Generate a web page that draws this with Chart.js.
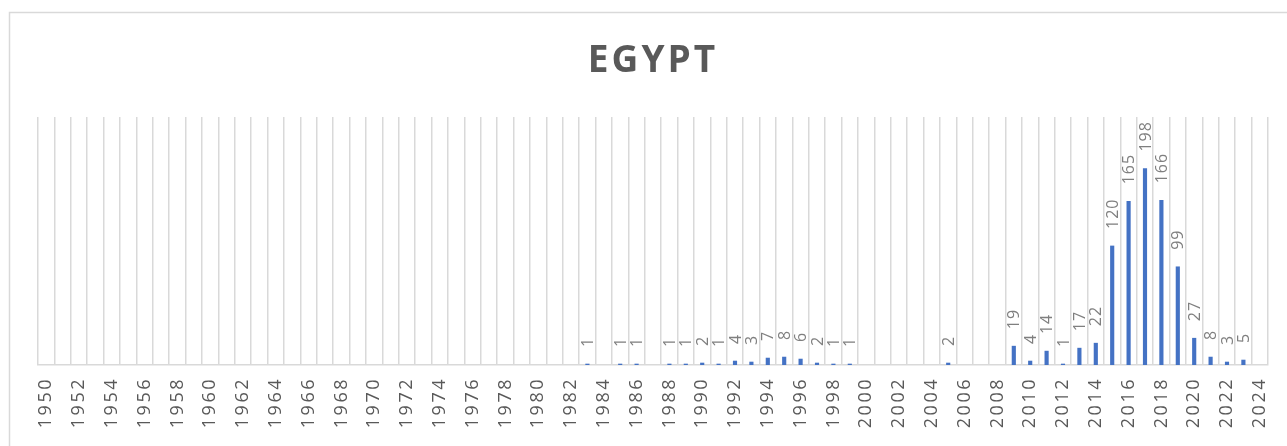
<!DOCTYPE html>
<html>
<head>
<meta charset="utf-8">
<script src="https://cdn.jsdelivr.net/npm/chart.js@4"></script>
<style>
  html, body { margin: 0; padding: 0; background: #fff; }
  .chartBox { width: 1287px; height: 446px; position: relative; }
</style>
</head>
<body>
<div class="chartBox"><canvas id="barChart"></canvas></div>
<script>
const chartTitle = "EGYPT";

const years = [
  "1950", "1951", "1952", "1953", "1954", "1955", "1956", "1957", "1958", "1959",
  "1960", "1961", "1962", "1963", "1964", "1965", "1966", "1967", "1968", "1969",
  "1970", "1971", "1972", "1973", "1974", "1975", "1976", "1977", "1978", "1979",
  "1980", "1981", "1982", "1983", "1984", "1985", "1986", "1987", "1988", "1989",
  "1990", "1991", "1992", "1993", "1994", "1995", "1996", "1997", "1998", "1999",
  "2000", "2001", "2002", "2003", "2004", "2005", "2006", "2007", "2008", "2009",
  "2010", "2011", "2012", "2013", "2014", "2015", "2016", "2017", "2018", "2019",
  "2020", "2021", "2022", "2023", "2024",
];

// one count per year, same order as years
const counts = [
  0, 0, 0, 0, 0, 0, 0, 0, 0, 0,
  0, 0, 0, 0, 0, 0, 0, 0, 0, 0,
  0, 0, 0, 0, 0, 0, 0, 0, 0, 0,
  0, 0, 0, 1, 0, 1, 1, 0, 1, 1,
  2, 1, 4, 3, 7, 8, 6, 2, 1, 1,
  0, 0, 0, 0, 0, 2, 0, 0, 0, 19,
  4, 14, 1, 17, 22, 120, 165, 198, 166, 99,
  27, 8, 3, 5, 0,
];

const gridColor = "#d9d9d9";
const textColor = "#595959";

// frame + title, drawn by hand so they sit where the original has them
const framePlugin = {
  id: "frame",
  beforeDraw(chart) {
    const ctx = chart.ctx;
    ctx.save();
    ctx.strokeStyle = gridColor;
    ctx.lineWidth = 1.5;
    ctx.strokeRect(9.5, 12.5, 1400, 600);
    ctx.fillStyle = textColor;
    ctx.font = "bold 37px 'Open Sans'";
    ctx.letterSpacing = "3px";
    ctx.textAlign = "center";
    ctx.textBaseline = "alphabetic";
    ctx.fillText(chartTitle, 653, 72);
    ctx.restore();
    // tick labels are spaced out a little in the original
    ctx.letterSpacing = "2.5px";
  },
  afterDraw(chart) {
    chart.ctx.letterSpacing = "0px";
  },
};

// value labels, rotated, above each non-zero bar
const valueLabelPlugin = {
  id: "valueLabels",
  afterDatasetsDraw(chart) {
    const ctx = chart.ctx;
    const meta = chart.getDatasetMeta(0);
    ctx.save();
    ctx.fillStyle = "#7f7f7f";
    ctx.font = "16px 'Open Sans'";
    ctx.letterSpacing = "1px";
    ctx.textAlign = "left";
    ctx.textBaseline = "middle";
    meta.data.forEach((bar, i) => {
      if (!counts[i]) return;
      ctx.save();
      ctx.translate(bar.x + 1, bar.y - 17);
      ctx.rotate(-Math.PI / 2);
      ctx.fillText(String(counts[i]), 0, 0);
      ctx.restore();
    });
    ctx.restore();
  },
};

const ctx = document.getElementById("barChart").getContext("2d");
const chart = new Chart(ctx, {
  type: "bar",
  data: {
    labels: years,
    datasets: [
      {
        // empty years get no bar at all
        data: counts.map((v) => (v === 0 ? null : v)),
        backgroundColor: "#4472C4",
        barThickness: 3.5,
      },
    ],
  },
  options: {
    responsive: true,
    maintainAspectRatio: false,
    animation: false,
    layout: { padding: { left: 38, right: 19, top: 117, bottom: 0 } },
    plugins: {
      legend: { display: false },
      title: { display: false },
      tooltip: { enabled: false },
    },
    scales: {
      x: {
        grid: {
          offset: true,
          drawTicks: false,
          color: gridColor,
          lineWidth: 1.5,
        },
        border: { display: true, color: gridColor, width: 1.5 },
        ticks: {
          autoSkip: false,
          minRotation: 90,
          maxRotation: 90,
          padding: 12,
          color: textColor,
          font: { family: "'Open Sans'", size: 18 },
          callback: (v, i) => (i % 2 === 0 ? years[i] : ""),
        },
        afterFit(scale) {
          scale.height = 81;
          scale.paddingLeft = 0;
          scale.paddingRight = 0;
        },
      },
      y: {
        display: false,
        min: 0,
        max: 250,
      },
    },
  },
  plugins: [framePlugin, valueLabelPlugin],
});
</script>
</body>
</html>
